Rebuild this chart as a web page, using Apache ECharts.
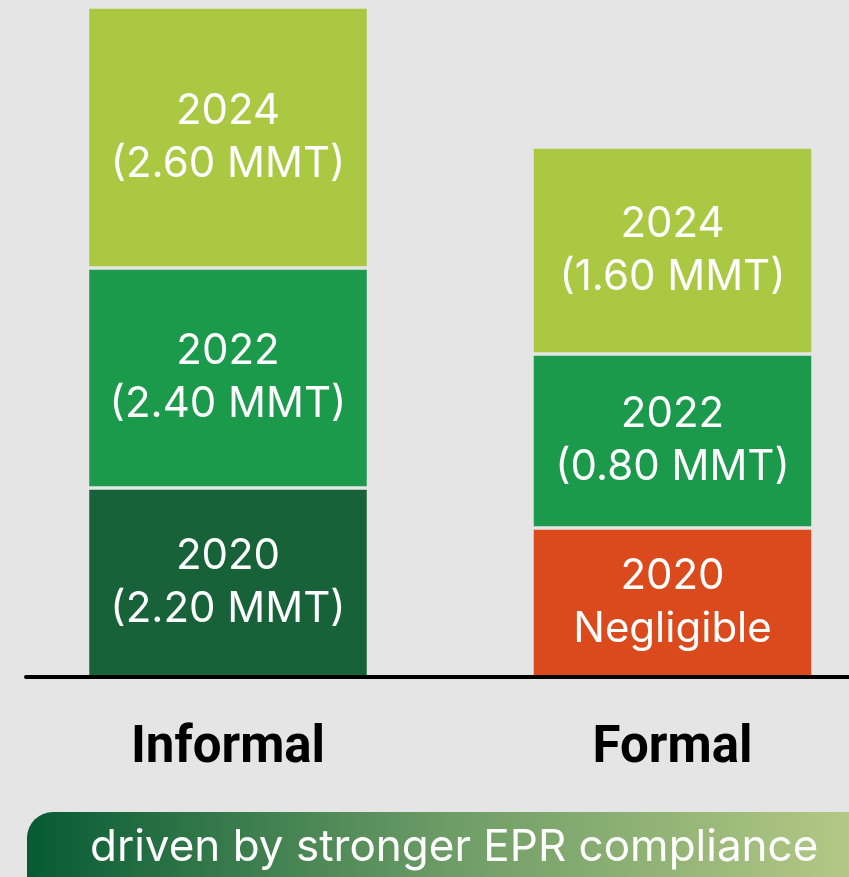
<!DOCTYPE html>
<html>
<head>
<meta charset="utf-8">
<script src="https://cdn.jsdelivr.net/npm/echarts@6/dist/echarts.min.js"></script>
<style>
    html, body { margin: 0; padding: 0; background: #e5e5e5; }
    #chart { width: 849px; height: 877px; }
</style>
</head>
<body>
<div id="chart"></div>
<script>
(function (window, document) {
    "use strict";

    // ---- Data ----
    const categories = ["Informal", "Formal"];
    const years = ["2020", "2022", "2024"];
    // Drawn segment heights (display units, not to scale with the MMT values)
    const height2020 = [1.89, 1.49];
    const height2022 = [2.20, 1.74];
    const height2024 = [2.61, 2.07];
    // Text shown in each segment
    const label2020 = ["(2.20 MMT)", "Negligible"];
    const label2022 = ["(2.40 MMT)", "(0.80 MMT)"];
    const label2024 = ["(2.60 MMT)", "(1.60 MMT)"];
    const footerText = "driven by stronger EPR compliance";

    const BG = "#e5e5e5";
    const FONT = "Inter, 'Noto Sans', sans-serif";

    function segmentSeries(year, heights, labels, colors) {
        return {
            name: year,
            type: "bar",
            stack: "total",
            barWidth: 281,
            data: heights.map((h, i) => ({ value: h, itemStyle: { color: colors[i] } })),
            itemStyle: { borderColor: BG, borderWidth: 1.75 },
            label: {
                show: true,
                position: "inside",
                color: "#fff",
                fontFamily: FONT,
                fontSize: 42,
                lineHeight: 53,
                formatter: p => year + "\n" + labels[p.dataIndex]
            },
            emphasis: { disabled: true }
        };
    }

    const chart = echarts.init(document.getElementById("chart"));
    chart.setOption({
        backgroundColor: BG,
        animation: false,
        grid: [
            { left: 5.75, right: -45.75, top: 0, bottom: 200, outerBoundsMode: "none" },
            { left: 26, right: 0, top: 0, bottom: 200, outerBoundsMode: "none" }
        ],
        xAxis: [
            {
                type: "category",
                data: categories,
                gridIndex: 0,
                axisLine: { show: false },
                axisTick: { show: false },
                axisLabel: {
                    color: "#000",
                    fontFamily: "Roboto, " + FONT,
                    fontWeight: "bold",
                    fontSize: 51,
                    margin: 72,
                    verticalAlign: "middle"
                }
            },
            {
                type: "value",
                gridIndex: 1,
                min: 0,
                max: 1,
                z: 10,
                axisLine: { show: true, lineStyle: { color: "#000", width: 4 } },
                axisTick: { show: false },
                axisLabel: { show: false },
                splitLine: { show: false }
            }
        ],
        yAxis: [
            { type: "value", gridIndex: 0, min: 0, max: 6.77, show: false },
            { type: "value", gridIndex: 1, min: 0, max: 1, show: false }
        ],
        series: [
            segmentSeries(years[0], height2020, label2020, ["#176238", "#da4a1c"]),
            segmentSeries(years[1], height2022, label2022, ["#1a9a4a", "#1a9a4a"]),
            segmentSeries(years[2], height2024, label2024, ["#abc842", "#abc842"])
        ],
        graphic: [
            {
                type: "rect",
                left: 27,
                top: 812,
                shape: { width: 840, height: 100, r: [26, 0, 0, 0] },
                style: {
                    fill: new echarts.graphic.LinearGradient(0, 0, 1, 0, [
                        { offset: 0, color: "#065b34" },
                        { offset: 0.5, color: "#6d9c66" },
                        { offset: 1, color: "#b6ca86" }
                    ])
                },
                silent: true
            },
            {
                type: "text",
                left: 90,
                top: 826,
                style: { text: footerText, fill: "#fff", font: "44px " + FONT },
                silent: true
            }
        ]
    });
    window.addEventListener("resize", () => chart.resize());
})(window, document);
</script>
</body>
</html>
